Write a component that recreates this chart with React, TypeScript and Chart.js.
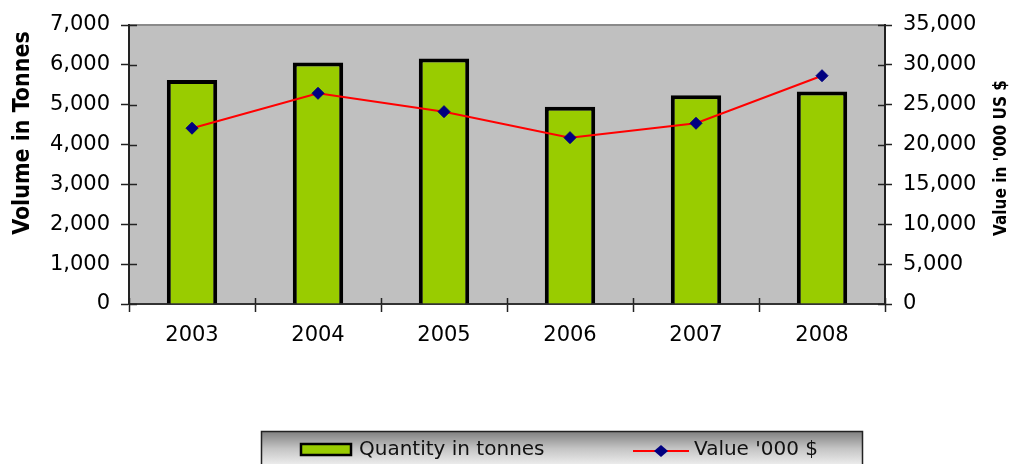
import React, { useEffect, useRef } from "react";
import { Chart, registerables } from "chart.js";

Chart.register(...registerables);

const years = ["2003", "2004", "2005", "2006", "2007", "2008"];
const quantityTonnes = [5620, 6060, 6160, 4950, 5240, 5330];
const valueThousandUSD = [22050, 26430, 24130, 20870, 22670, 28640];
const leftTitle = "Volume in Tonnes";
const rightTitle = "Value in '000 US $";
const quantityLabel = "Quantity in tonnes";
const valueLabel = "Value '000 $";

const BAR_COLOR = "#99CC00";
const LINE_COLOR = "#FF0000";
const MARKER_COLOR = "#000080";

const TICK_FONT = { family: "'DejaVu Sans', sans-serif", size: 21 };
const TITLE_FAMILY = "'Liberation Sans Narrow', 'DejaVu Sans Condensed', 'Liberation Sans', sans-serif";

const decorPlugin = {
  id: "decor",
  beforeDraw(chart: any) {
    const { ctx, chartArea: a } = chart;
    ctx.save();
    ctx.fillStyle = "#C0C0C0";
    ctx.fillRect(a.left, a.top, a.right - a.left, a.bottom - a.top);
    ctx.strokeStyle = "#8a8a8a";
    ctx.lineWidth = 2;
    ctx.beginPath();
    ctx.moveTo(a.left, a.top);
    ctx.lineTo(a.right, a.top);
    ctx.stroke();
    ctx.restore();
  },
  afterDraw(chart: any) {
    const { ctx, chartArea: a } = chart;
    const y = chart.scales.y;
    const y1 = chart.scales.y1;
    const x = chart.scales.x;
    ctx.save();
    // inner tick marks
    ctx.strokeStyle = "#222";
    ctx.lineWidth = 1.5;
    ctx.beginPath();
    y.ticks.forEach((t: any, i: number) => {
      const py = Math.round(y.getPixelForTick(i)) + 0.5;
      ctx.moveTo(a.left, py);
      ctx.lineTo(a.left + 8, py);
    });
    y1.ticks.forEach((t: any, i: number) => {
      const py = Math.round(y1.getPixelForTick(i)) + 0.5;
      ctx.moveTo(a.right, py);
      ctx.lineTo(a.right - 7, py);
    });
    const n = x.ticks.length;
    const step = (a.right - a.left) / n;
    for (let i = 0; i <= n; i++) {
      const px = Math.round(a.left + i * step) + 0.5;
      ctx.moveTo(px, a.bottom);
      ctx.lineTo(px, a.bottom - 6);
    }
    ctx.stroke();

    // axis titles
    ctx.fillStyle = "#000";
    ctx.textAlign = "center";
    ctx.textBaseline = "middle";
    ctx.save();
    ctx.translate(23, 133);
    ctx.rotate(-Math.PI / 2);
    ctx.font = `bold 23px ${TITLE_FAMILY}`;
    ctx.fillText(leftTitle, 0, 0);
    ctx.restore();
    ctx.save();
    ctx.translate(1002, 158);
    ctx.rotate(-Math.PI / 2);
    ctx.font = `bold 17px ${TITLE_FAMILY}`;
    ctx.fillText(rightTitle, 0, 0);
    ctx.restore();

    // legend
    const lx = 261, ly = 431, lw = 601, lh = 40;
    const g = ctx.createLinearGradient(0, ly, 0, 466);
    g.addColorStop(0, "#7e7e7e");
    g.addColorStop(0.5, "#c4c4c4");
    g.addColorStop(1, "#f0f0f0");
    ctx.fillStyle = g;
    ctx.fillRect(lx, ly, lw, lh);
    ctx.strokeStyle = "#222";
    ctx.lineWidth = 1.5;
    ctx.strokeRect(lx + 0.5, ly + 0.5, lw, lh);

    const cy = 450;
    ctx.fillStyle = BAR_COLOR;
    ctx.fillRect(301, 444, 50, 11);
    ctx.strokeStyle = "#000";
    ctx.lineWidth = 2.5;
    ctx.strokeRect(301, 444, 50, 11);

    ctx.strokeStyle = LINE_COLOR;
    ctx.lineWidth = 2;
    ctx.beginPath();
    ctx.moveTo(633, 451);
    ctx.lineTo(689, 451);
    ctx.stroke();
    ctx.fillStyle = MARKER_COLOR;
    ctx.beginPath();
    ctx.moveTo(661, 445);
    ctx.lineTo(668, 451);
    ctx.lineTo(661, 457);
    ctx.lineTo(654, 451);
    ctx.closePath();
    ctx.fill();

    ctx.fillStyle = "#111";
    ctx.textAlign = "left";
    ctx.textBaseline = "middle";
    ctx.font = "20px 'DejaVu Sans', sans-serif";
    ctx.fillText(quantityLabel, 359, cy);
    ctx.fillText(valueLabel, 694, cy);
    ctx.restore();
  },
};

export default function App() {
  const ref = useRef<HTMLCanvasElement | null>(null);
  useEffect(() => {
    document.body.style.margin = "0";
    const chart = new Chart(ref.current as HTMLCanvasElement, {
      data: {
        labels: years,
        datasets: [
          {
            type: "line",
            label: valueLabel,
            data: valueThousandUSD,
            yAxisID: "y1",
            borderColor: LINE_COLOR,
            borderWidth: 2,
            pointStyle: "rectRot",
            pointRadius: 6,
            pointBackgroundColor: MARKER_COLOR,
            pointBorderColor: MARKER_COLOR,
            pointBorderWidth: 1,
            tension: 0,
            order: 0,
          } as any,
          {
            type: "bar",
            label: quantityLabel,
            data: quantityTonnes,
            yAxisID: "y",
            backgroundColor: BAR_COLOR,
            borderColor: "#000000",
            borderWidth: 4,
            barPercentage: 0.4,
            categoryPercentage: 1,
            order: 1,
          } as any,
        ],
      },
      options: {
        animation: false,
        responsive: false,
        maintainAspectRatio: false,
        layout: { padding: { top: 25, left: 0, right: 0, bottom: 0 } },
        plugins: { legend: { display: false }, tooltip: { enabled: false } },
        scales: {
          x: {
            offset: true,
            grid: {
              offset: true,
              drawOnChartArea: false,
              drawTicks: true,
              tickLength: 8,
              tickColor: "#222",
              tickWidth: 1.5,
            },
            border: { display: true, color: "#333", width: 2 },
            ticks: { color: "#000", font: TICK_FONT, padding: 11 },
            afterFit: (s: any) => { s.height = 160; },
          },
          y: {
            position: "left",
            min: 0,
            max: 7000,
            grid: { drawOnChartArea: false, tickLength: 8, tickColor: "#222", tickWidth: 1.5 },
            border: { display: true, color: "#222", width: 2 },
            ticks: {
              stepSize: 1000,
              color: "#000",
              font: TICK_FONT,
              padding: 11,
              callback: (v: any) => Number(v).toLocaleString("en-US"),
            },
            afterFit: (s: any) => { s.width = 129; },
          },
          y1: {
            position: "right",
            min: 0,
            max: 35000,
            grid: { drawOnChartArea: false, tickLength: 7, tickColor: "#222", tickWidth: 1.5 },
            border: { display: true, color: "#222", width: 2 },
            ticks: {
              stepSize: 5000,
              color: "#000",
              font: TICK_FONT,
              padding: 11,
              callback: (v: any) => Number(v).toLocaleString("en-US"),
            },
            afterFit: (s: any) => { s.width = 137; },
          },
        },
      },
      plugins: [decorPlugin],
    });
    return () => chart.destroy();
  }, []);
  return (
    <div style={{ position: "fixed", left: 0, top: 0, width: 1022, height: 464, background: "#fff" }}>
      <canvas ref={ref} width={1022} height={464} style={{ width: 1022, height: 464, display: "block" }} />
    </div>
  );
}
